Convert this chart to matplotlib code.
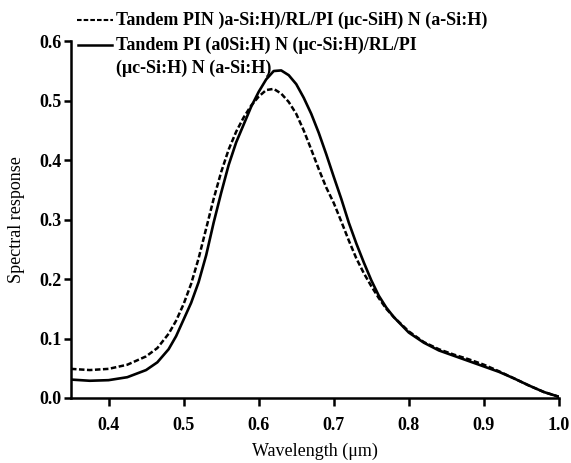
import matplotlib
matplotlib.use("Agg")
import matplotlib.pyplot as plt
from matplotlib.lines import Line2D

# wavelength in micrometres
wavelength = [0.35, 0.375, 0.40, 0.425, 0.45, 0.465, 0.48, 0.49, 0.50, 0.51,
              0.52, 0.53, 0.54, 0.55, 0.56, 0.57, 0.58, 0.59, 0.60, 0.61,
              0.62, 0.63, 0.64, 0.65, 0.66, 0.67, 0.68, 0.69, 0.70, 0.71,
              0.72, 0.73, 0.74, 0.75, 0.76, 0.77, 0.78, 0.80, 0.82, 0.84,
              0.86, 0.88, 0.90, 0.92, 0.94, 0.96, 0.98, 1.0]

# dashed series: Tandem PIN (a-Si:H)/RL/PI (uc-Si:H) N (a-Si:H)
resp_dashed = [0.049, 0.047, 0.049, 0.056, 0.070, 0.084, 0.108, 0.130, 0.158, 0.192,
               0.235, 0.285, 0.335, 0.380, 0.418, 0.448, 0.472, 0.492, 0.507, 0.518,
               0.520, 0.512, 0.498, 0.478, 0.450, 0.418, 0.385, 0.354, 0.328, 0.297,
               0.265, 0.235, 0.210, 0.188, 0.168, 0.150, 0.136, 0.112, 0.094, 0.082,
               0.073, 0.065, 0.056, 0.045, 0.033, 0.021, 0.010, 0.002]

# solid series: Tandem PI (a-Si:H) N (uc-Si:H)/RL/PI (uc-Si:H) N (a-Si:H)
resp_solid = [0.031, 0.029, 0.030, 0.035, 0.047, 0.060, 0.082, 0.104, 0.132, 0.160,
              0.195, 0.240, 0.295, 0.345, 0.392, 0.430, 0.460, 0.490, 0.515, 0.536,
              0.550, 0.551, 0.543, 0.528, 0.505, 0.478, 0.446, 0.410, 0.372, 0.335,
              0.295, 0.260, 0.228, 0.198, 0.172, 0.152, 0.136, 0.110, 0.093, 0.080,
              0.071, 0.062, 0.053, 0.044, 0.033, 0.021, 0.010, 0.002]

label_dashed = "Tandem PIN )a-Si:H)/RL/PI (\u03bcc-SiH) N (a-Si:H)"
label_solid_1 = "Tandem PI (a0Si:H) N (\u03bcc-Si:H)/RL/PI"
label_solid_2 = "(\u03bcc-Si:H) N (a-Si:H)"

xticks = [0.4, 0.5, 0.6, 0.7, 0.8, 0.9, 1.0]
yticks = [0.0, 0.1, 0.2, 0.3, 0.4, 0.5, 0.6]

plt.rcParams['font.family'] = ['Liberation Serif', 'DejaVu Serif']
plt.rcParams['font.weight'] = 'bold'
fs = 13

W, H = 571, 463
fig = plt.figure(figsize=(W / 100, H / 100), dpi=100)
ax = fig.add_axes([71 / W, 1 - 398 / H, (559 - 71) / W, (398 - 41.3) / H])

dash = (0, (2.2, 1.0))
ax.plot(wavelength, resp_dashed, color='black', lw=1.8, linestyle=dash,
        dash_joinstyle='round')
ax.plot(wavelength, resp_solid, color='black', lw=1.9, solid_joinstyle='round')

ax.set_xlim(0.35, 1.0)
ax.set_ylim(0.0, 0.6)
ax.set_xticks(xticks)
ax.set_yticks(yticks)
ax.set_xticklabels([f"{t:.1f}" for t in xticks], fontsize=fs, fontweight='bold')
ax.set_yticklabels([f"{t:.1f}" for t in yticks], fontsize=fs, fontweight='bold')

for side in ['top', 'right']:
    ax.spines[side].set_visible(False)
for side in ['left', 'bottom']:
    ax.spines[side].set_linewidth(1.8)
ax.tick_params(axis='x', direction='out', length=6, width=1.8, pad=8)
ax.tick_params(axis='y', direction='out', length=5, width=1.8, pad=2)

ax.set_xlabel("Wavelength (\u03bcm)", fontsize=fs, fontweight='normal', labelpad=6)
ax.set_ylabel("Spectral response", fontsize=fs, fontweight='normal', labelpad=10)

# legend drawn by hand so the solid handle sits on the first line of its label
fig.add_artist(Line2D([77 / W, 113 / W], [1 - 20 / H, 1 - 20 / H],
                      transform=fig.transFigure, color='black', lw=1.5, linestyle=dash))
fig.add_artist(Line2D([78 / W, 112 / W], [1 - 45 / H, 1 - 45 / H],
                      transform=fig.transFigure, color='black', lw=1.8))
fig.text(116 / W, 1 - 20 / H, label_dashed, fontsize=fs, va='center', ha='left')
fig.text(116 / W, 1 - 45 / H, label_solid_1, fontsize=fs, va='center', ha='left')
fig.text(116 / W, 1 - 68 / H, label_solid_2, fontsize=fs, va='center', ha='left')

fig.savefig("out.png", dpi=100)
